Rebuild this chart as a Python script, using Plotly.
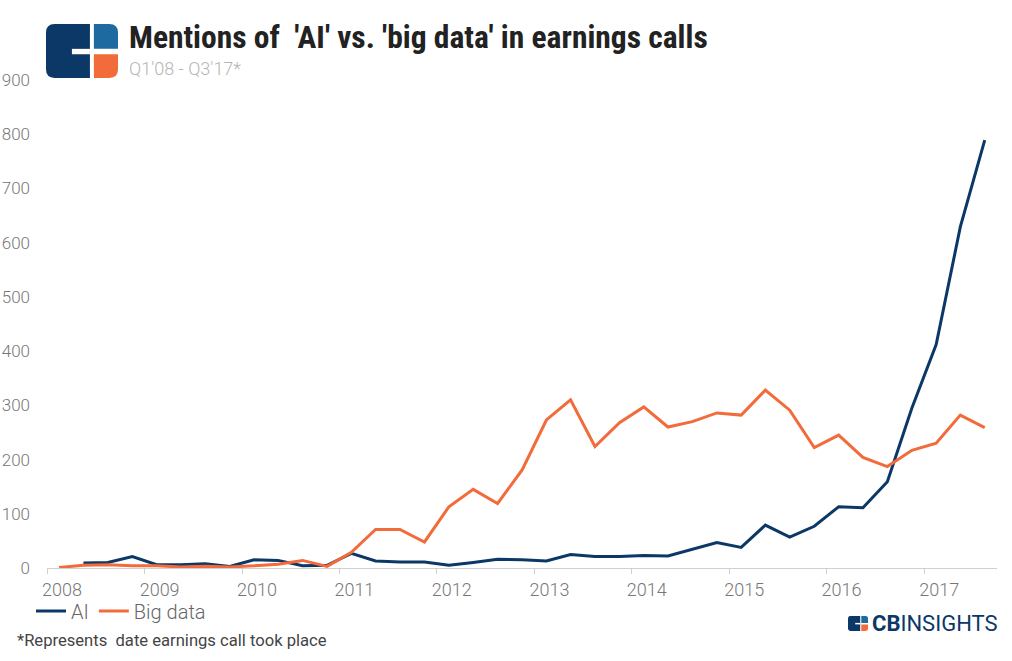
import plotly.graph_objects as go
import pandas as pd

# Quarterly mentions, Q1'08 - Q3'17 (points sit mid-quarter)
quarters = pd.period_range("2008Q1", "2017Q3", freq="Q")

ai_mentions = [None, 9, 10, 21, 6, 6, 8, 3, 15, 14, 4, 5,
               27, 13, 11, 11, 5, 10, 16, 15, 13, 25, 21, 21,
               23, 22, 35, 47, 38, 79, 57, 77, 113, 111, 159, 295,
               412, 629, 789]
big_data_mentions = [1, 5, 6, 4, 4, 2, 3, 2, 4, 7, 14, 3,
                     29, 71, 71, 48, 113, 145, 119, 181, 273, 310, 224, 268,
                     297, 260, 270, 286, 282, 328, 291, 222, 245, 204, 187, 217,
                     230, 282, 259]

year_ticks = list(range(2008, 2018))
y_ticks = list(range(0, 1000, 100))

NAVY = "#0b3866"
ORANGE = "#f26b3a"
BLUE = "#1d6aa0"
FONT = "Roboto, 'Open Sans', sans-serif"
COND = "'Roboto Condensed', 'DejaVu Sans Condensed', 'Liberation Sans Narrow', Roboto, sans-serif"

x_dates = [p.start_time + (p.end_time - p.start_time) / 2 for p in quarters]

# figure size and plot area (page body margin is removed below)
W, H = 1012, 661
L, T = 47, 80
R = W - 997
B = H - 568


def px(x):
    # pixel -> paper x
    return (x - L) / (W - L - R)


def py(y):
    # pixel -> paper y
    return (H - B - y) / (H - T - B)


def rounded_rect(x0, y0, x1, y1, r, corners, color):
    # corners: tl, tr, br, bl flags; coordinates in pixels, y downwards
    rx = r / (W - L - R)
    ry = r / (H - T - B)
    a, b, c, d = px(x0), py(y0), px(x1), py(y1)
    tl, tr, br, bl = corners
    p = f"M {a + (rx if tl else 0)},{b} "
    p += f"L {c - (rx if tr else 0)},{b} "
    if tr:
        p += f"Q {c},{b} {c},{b - ry} "
    p += f"L {c},{d + (ry if br else 0)} "
    if br:
        p += f"Q {c},{d} {c - rx},{d} "
    p += f"L {a + (rx if bl else 0)},{d} "
    if bl:
        p += f"Q {a},{d} {a},{d + ry} "
    p += f"L {a},{b - (ry if tl else 0)} "
    if tl:
        p += f"Q {a},{b} {a + rx},{b} "
    p += "Z"
    return dict(type="path", xref="paper", yref="paper", path=p,
                fillcolor=color, line=dict(width=0), layer="above")


def cb_logo(x0, y0, s):
    # s = width of the logo in pixels, height is 0.75 * s
    gap = s * 0.055
    mid = x0 + s * 0.61
    half = y0 + s * 0.345
    notch = s * 0.075
    r = s * 0.12
    shapes = [
        rounded_rect(x0, y0, mid, y0 + s * 0.75, r, (1, 0, 0, 1), NAVY),
        rounded_rect(x0 + s * 0.36, half, mid, half + notch, 0, (0, 0, 0, 0), "white"),
        rounded_rect(mid + gap, y0, x0 + s, half, r, (0, 1, 0, 0), BLUE),
        rounded_rect(mid + gap, half + notch, x0 + s, y0 + s * 0.75, r, (0, 0, 1, 0), ORANGE),
    ]
    return shapes


fig = go.Figure()

fig.add_trace(go.Scatter(
    x=x_dates, y=ai_mentions, mode="lines", name="AI",
    line=dict(color=NAVY, width=3)
))
fig.add_trace(go.Scatter(
    x=x_dates, y=big_data_mentions, mode="lines", name="Big data",
    line=dict(color=ORANGE, width=3)
))

shapes = cb_logo(46, 24, 72) + cb_logo(848, 616, 20)

annotations = [
    dict(text="Mentions of  'AI' vs. 'big data' in earnings calls",
         x=px(127), y=py(38), xref="paper", yref="paper",
         xanchor="left", yanchor="middle", showarrow=False,
         font=dict(family=COND, size=31.5, color="#222222", weight="bold")),
    dict(text="Q1'08 - Q3'17*",
         x=px(127), y=py(68), xref="paper", yref="paper",
         xanchor="left", yanchor="middle", showarrow=False,
         font=dict(family=FONT, size=18, color="#b5b5b5", weight=300)),
    dict(text="*Represents  date earnings call took place",
         x=px(15), y=py(640), xref="paper", yref="paper",
         xanchor="left", yanchor="middle", showarrow=False,
         font=dict(family=FONT, size=16.6, color="#444444")),
    dict(text="<b>CB</b>INSIGHTS",
         x=px(870), y=py(623), xref="paper", yref="paper",
         xanchor="left", yanchor="middle", showarrow=False,
         font=dict(family=FONT, size=22, color=NAVY)),
]

fig.update_layout(
    width=W, height=H,
    margin=dict(l=L, r=R, t=T, b=B, autoexpand=False),
    plot_bgcolor="white", paper_bgcolor="white",
    font=dict(family=FONT, color="#777777"),
    showlegend=True,
    legend=dict(orientation="h", xref="container", yref="container",
                x=31 / W, y=1 - 611 / H,
                xanchor="left", yanchor="middle",
                font=dict(size=20, color="#666666", weight=300),
                bgcolor="rgba(0,0,0,0)", itemwidth=30, tracegroupgap=0),
    shapes=shapes,
    annotations=annotations,
)

fig.update_xaxes(
    type="date",
    range=["2008-01-01", "2017-10-01"],
    tickvals=[f"{y}-01-01" for y in year_ticks],
    ticktext=[str(y) for y in year_ticks],
    ticklabelshift=15,
    automargin=False,
    showgrid=False, zeroline=False,
    showline=True, linecolor="#d0d0d0", linewidth=1,
    ticks="outside", ticklen=5, tickcolor="#d0d0d0",
    tickfont=dict(size=18, color="#777777", weight=300),
)
fig.update_yaxes(
    range=[0, 900],
    tickvals=y_ticks,
    automargin=False,
    showgrid=False, zeroline=False, showline=False,
    ticks="", ticklabelstandoff=16,
    tickfont=dict(size=17, color="#777777", weight=300),
)

# drop the browser's default 8px body margin so the figure fills the window
fig.write_html("out.html", config={"displayModeBar": False},
               post_script="document.body.style.margin = '0';")
